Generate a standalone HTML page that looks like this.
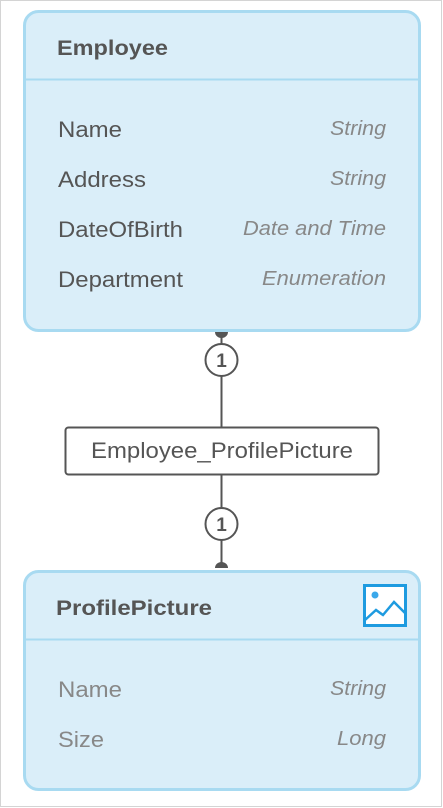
<!DOCTYPE html>
<html><head><meta charset="utf-8"><style>
html,body{margin:0;padding:0;background:#fff;}
svg{display:block;font-family:"Liberation Sans",Arial,sans-serif;}
</style></head><body>
<svg width="443" height="808" viewBox="0 0 443 808" xmlns="http://www.w3.org/2000/svg">
<rect x="0.5" y="0.5" width="441" height="806" fill="#fff" stroke="#d4d4d4"/>
<!-- Employee -->
<rect x="24.5" y="11.5" width="395" height="319" rx="14" fill="#daeef9" stroke="#a8daf1" stroke-width="3"/>
<line x1="26" y1="79.5" x2="418" y2="79.5" stroke="#a8daf1" stroke-width="2"/>
<text x="57" y="55" font-size="21" font-weight="bold" fill="#555" textLength="111" lengthAdjust="spacingAndGlyphs">Employee</text>
<g font-size="22" fill="#555" lengthAdjust="spacingAndGlyphs">
<text x="58" y="137" textLength="64" lengthAdjust="spacingAndGlyphs">Name</text>
<text x="58" y="187" textLength="88" lengthAdjust="spacingAndGlyphs">Address</text>
<text x="58" y="237" textLength="125" lengthAdjust="spacingAndGlyphs">DateOfBirth</text>
<text x="58" y="287" textLength="125" lengthAdjust="spacingAndGlyphs">Department</text>
</g>
<g font-size="20" fill="#888" font-style="italic">
<text x="330" y="135" textLength="56" lengthAdjust="spacingAndGlyphs">String</text>
<text x="330" y="185" textLength="56" lengthAdjust="spacingAndGlyphs">String</text>
<text x="243" y="235" textLength="143" lengthAdjust="spacingAndGlyphs">Date and Time</text>
<text x="262" y="285" textLength="124" lengthAdjust="spacingAndGlyphs">Enumeration</text>
</g>
<!-- connector -->
<line x1="221.5" y1="332" x2="221.5" y2="567" stroke="#555" stroke-width="2"/>
<path d="M215 332 A6.5 6 0 0 0 228 332 Z" fill="#555"/>
<path d="M215 568 A6.5 6 0 0 1 228 568 Z" fill="#555"/>
<circle cx="221.5" cy="360" r="16" fill="#fff" stroke="#555" stroke-width="2"/>
<text x="221.5" y="367" font-size="19" font-weight="bold" fill="#555" text-anchor="middle">1</text>
<circle cx="221.5" cy="524" r="16" fill="#fff" stroke="#555" stroke-width="2"/>
<text x="221.5" y="531" font-size="19" font-weight="bold" fill="#555" text-anchor="middle">1</text>
<rect x="65.5" y="427.5" width="313" height="47" rx="3" fill="#fff" stroke="#555" stroke-width="2"/>
<text x="91" y="458" font-size="22" fill="#555" textLength="262" lengthAdjust="spacingAndGlyphs">Employee_ProfilePicture</text>
<!-- ProfilePicture -->
<rect x="24.5" y="571.5" width="395" height="218" rx="14" fill="#daeef9" stroke="#a8daf1" stroke-width="3"/>
<line x1="26" y1="639.5" x2="418" y2="639.5" stroke="#a8daf1" stroke-width="2"/>
<text x="56" y="615" font-size="21" font-weight="bold" fill="#555" textLength="156" lengthAdjust="spacingAndGlyphs">ProfilePicture</text>
<rect x="364.5" y="585.5" width="41" height="40" fill="#fff" stroke="#1e9be0" stroke-width="3"/>
<circle cx="375" cy="595" r="3.5" fill="#3aa8ea"/>
<polyline points="365,620 376,610 383,615 394,602 405,613" fill="none" stroke="#1e9be0" stroke-width="2.5"/>
<g font-size="22" fill="#888">
<text x="58" y="697" textLength="64" lengthAdjust="spacingAndGlyphs">Name</text>
<text x="58" y="747" textLength="46" lengthAdjust="spacingAndGlyphs">Size</text>
</g>
<g font-size="20" fill="#888" font-style="italic">
<text x="330" y="695" textLength="56" lengthAdjust="spacingAndGlyphs">String</text>
<text x="337" y="745" textLength="49" lengthAdjust="spacingAndGlyphs">Long</text>
</g>
</svg>
</body></html>
